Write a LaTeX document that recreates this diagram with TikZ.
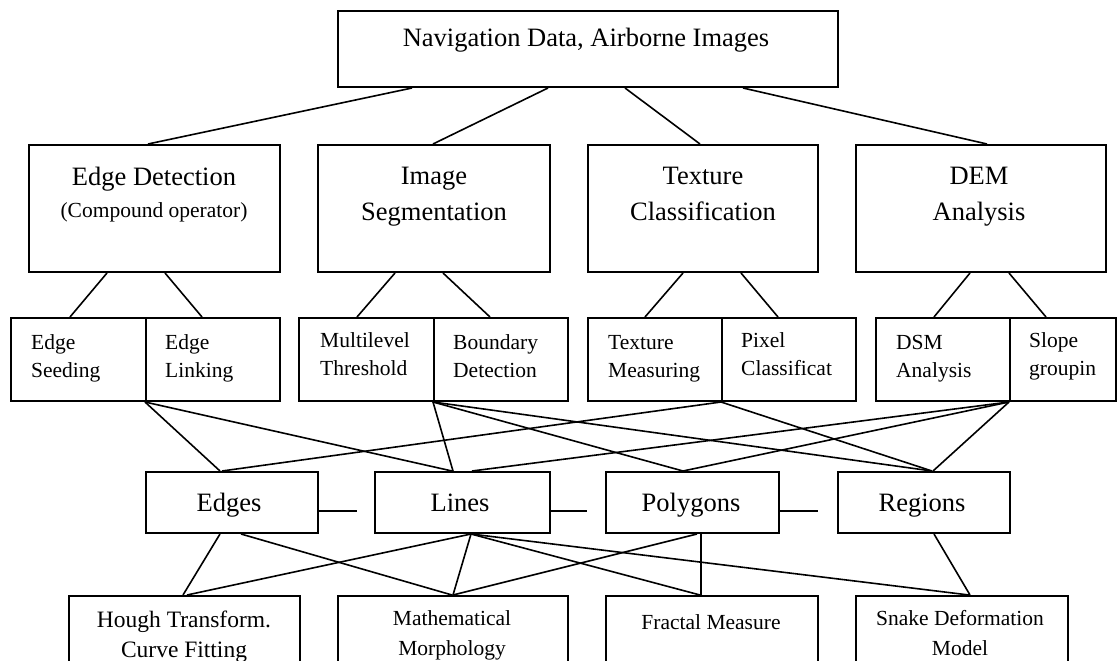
\documentclass[tikz,border=0pt]{standalone}
\usepackage{fontspec}
\setmainfont{Liberation Serif}
\usepackage{tikz}

\newcommand{\fsz}[2]{\fontsize{#1pt}{#2pt}\selectfont}

\begin{document}
\begin{tikzpicture}[x=1pt, y=-1pt,
  box/.style={draw, line width=2pt, anchor=north west, inner sep=0pt},
  link/.style={line width=1.6pt},
  lbl/.style={inner sep=0pt, anchor=base, align=center},
  leaf/.style={inner sep=0pt, anchor=base west, align=left, font=\fsz{21.5}{28}}]
  \useasboundingbox (0,0) rectangle (1117,661);
  % Source box
  \node[box, minimum width=500pt, minimum height=76pt] (src) at (337,10) {};
  \node[lbl, font=\fsz{26.5}{30}] (srct) at (586,47) {Navigation Data, Airborne Images};
  % Methods (base = last line)
  \node[box, minimum width=251pt, minimum height=127pt] (ed) at (28,144) {};
  \node[box, minimum width=232pt, minimum height=127pt] (is) at (317,144) {};
  \node[box, minimum width=230pt, minimum height=127pt] (tc) at (587,144) {};
  \node[box, minimum width=250pt, minimum height=127pt] (dem) at (855,144) {};
  \node[lbl, font=\fsz{26.5}{35.5}] (edt) at (154,217) {Edge Detection\\[-3.5pt]{\fsz{21.5}{24}(Compound operator)}};
  \node[lbl, font=\fsz{26.5}{35.5}] (ist) at (434,220) {Image\\Segmentation};
  \node[lbl, font=\fsz{26.5}{35.5}] (tct) at (703,220) {Texture\\Classification};
  \node[lbl, font=\fsz{26.5}{35.5}] (demt) at (979,220) {DEM\\Analysis};
  % Sub-steps
  \node[box, minimum width=135pt, minimum height=83pt] (es) at (10,317) {};
  \node[box, minimum width=134pt, minimum height=83pt] (el) at (145,317) {};
  \node[box, minimum width=135pt, minimum height=83pt] (mt) at (298,317) {};
  \node[box, minimum width=134pt, minimum height=83pt] (bd) at (433,317) {};
  \node[box, minimum width=134pt, minimum height=83pt] (tm) at (587,317) {};
  \node[box, minimum width=134pt, minimum height=83pt] (pc) at (721,317) {};
  \node[box, minimum width=134pt, minimum height=83pt] (dsm) at (875,317) {};
  \node[box, minimum width=106pt, minimum height=83pt] (sg) at (1009,317) {};
  \node[leaf] (est) at (31,377) {Edge\\Seeding};
  \node[leaf] (elt) at (165,377) {Edge\\Linking};
  \node[leaf] (mtt) at (320,375) {Multilevel\\Threshold};
  \node[leaf] (bdt) at (453,377) {Boundary\\Detection};
  \node[leaf] (tmt) at (608,377) {Texture\\Measuring};
  \node[leaf] (pct) at (741,375) {Pixel\\Classificat};
  \node[leaf] (dsmt) at (896,377) {DSM\\Analysis};
  \node[leaf] (sgt) at (1029,375) {Slope\\groupin};
  % Features
  \node[box, minimum width=172pt, minimum height=61pt] (edg) at (145,471) {};
  \node[box, minimum width=175pt, minimum height=61pt] (lin) at (374,471) {};
  \node[box, minimum width=173pt, minimum height=61pt] (pol) at (605,471) {};
  \node[box, minimum width=172pt, minimum height=61pt] (reg) at (837,471) {};
  \node[lbl, font=\fsz{26.5}{30}] (edgt) at (229,511) {Edges};
  \node[lbl, font=\fsz{26.5}{30}] (lint) at (460,511) {Lines};
  \node[lbl, font=\fsz{26.5}{30}] (polt) at (691,511) {Polygons};
  \node[lbl, font=\fsz{26.5}{30}] (regt) at (922,511) {Regions};
  \coordinate (s1) at (357,511);
  \coordinate (s2) at (587,511);
  \coordinate (s3) at (818,511);
  \draw[link] (edg.east |- s1) -- (s1);
  \draw[link] (lin.east |- s2) -- (s2);
  \draw[link] (pol.east |- s3) -- (s3);
  % Techniques (base = last line)
  \node[box, minimum width=231pt, minimum height=90pt] (hou) at (68,595) {};
  \node[box, minimum width=230pt, minimum height=90pt] (mat) at (337,595) {};
  \node[box, minimum width=212pt, minimum height=90pt] (fra) at (605,595) {};
  \node[box, minimum width=212pt, minimum height=90pt] (snk) at (855,595) {};
  \node[lbl, font=\fsz{23.5}{30.5}] (hout) at (184,657.5) {Hough Transform.\\Curve Fitting};
  \node[lbl, font=\fsz{21.5}{30.5}] (matt) at (452,655.5) {Mathematical\\Morphology};
  \node[lbl, font=\fsz{21.5}{30.5}] (frat) at (711,629.5) {Fractal Measure};
  \node[lbl, font=\fsz{21.5}{30}] (snkt) at (960,655) {Snake Deformation\\Model};
  % Source to methods
  \draw[link] (src.south -| 412,0) -- (ed.north -| 148,0);
  \draw[link] (src.south -| 548,0) -- (is.north -| 433,0);
  \draw[link] (src.south -| 625,0) -- (tc.north -| 700,0);
  \draw[link] (src.south -| 743,0) -- (dem.north -| 987,0);
  % Methods to sub-steps
  \draw[link] (ed.south -| 107,0) -- (es.north -| 70,0);
  \draw[link] (ed.south -| 165,0) -- (el.north -| 202,0);
  \draw[link] (is.south -| 395,0) -- (mt.north -| 357,0);
  \draw[link] (is.south -| 443,0) -- (bd.north -| 490,0);
  \draw[link] (tc.south -| 683,0) -- (tm.north -| 645,0);
  \draw[link] (tc.south -| 741,0) -- (pc.north -| 778,0);
  \draw[link] (dem.south -| 970,0) -- (dsm.north -| 934,0);
  \draw[link] (dem.south -| 1009,0) -- (sg.north -| 1046,0);
  % Sub-steps to features
  \draw[link] (el.south west) -- (edg.north -| 220,0);
  \draw[link] (el.south west) -- (lin.north -| 452,0);
  \draw[link] (bd.south west) -- (lin.north -| 453,0);
  \draw[link] (bd.south west) -- (pol.north -| 683,0);
  \draw[link] (bd.south west) -- (reg.north -| 932,0);
  \draw[link] (pc.south west) -- (edg.north -| 222,0);
  \draw[link] (pc.south west) -- (reg.north -| 932,0);
  \draw[link] (sg.south west) -- (lin.north -| 472,0);
  \draw[link] (sg.south west) -- (pol.north -| 683,0);
  \draw[link] (sg.south west) -- (reg.north -| 933,0);
  % Features to techniques
  \draw[link] (edg.south -| 220,0) -- (hou.north -| 183,0);
  \draw[link] (edg.south -| 241,0) -- (mat.north -| 452,0);
  \draw[link] (lin.south -| 471,0) -- (hou.north -| 187,0);
  \draw[link] (lin.south -| 471,0) -- (mat.north -| 453,0);
  \draw[link] (lin.south -| 471,0) -- (fra.north -| 700,0);
  \draw[link] (lin.south -| 471,0) -- (snk.north -| 969,0);
  \draw[link] (pol.south -| 697,0) -- (mat.north -| 453,0);
  \draw[link] (pol.south -| 701,0) -- (fra.north -| 701,0);
  \draw[link] (reg.south -| 934,0) -- (snk.north -| 970,0);
\end{tikzpicture}
\end{document}
